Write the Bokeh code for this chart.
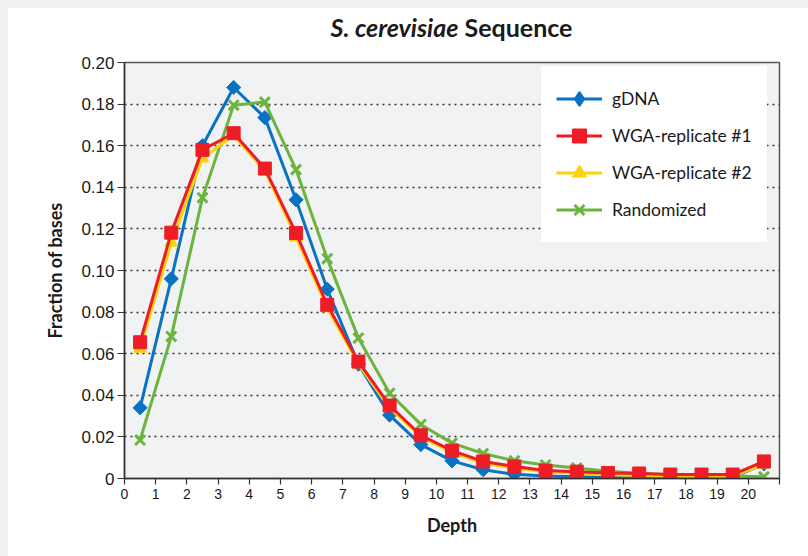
from bokeh.plotting import figure
from bokeh.models import Range1d, FixedTicker, Legend, LegendItem, Div
from bokeh.layouts import column
from bokeh.embed import file_html
from bokeh.resources import INLINE
import math

# ---------------- data ----------------
depth = [0.5, 1.5, 2.5, 3.5, 4.5, 5.5, 6.5, 7.5, 8.5, 9.5, 10.5,
         11.5, 12.5, 13.5, 14.5, 15.5, 16.5, 17.5, 18.5, 19.5, 20.5]

gdna = [0.034, 0.096, 0.160, 0.188, 0.1735, 0.134, 0.091, 0.055, 0.0305, 0.0163, 0.0085,
        0.0042, 0.0020, 0.0012, 0.0008, 0.0005, 0.0004, 0.0004, 0.0004, 0.0005, 0.0070]

wga1 = [0.0655, 0.1182, 0.158, 0.166, 0.149, 0.118, 0.0835, 0.0562, 0.0351, 0.0208, 0.0134,
        0.0082, 0.0058, 0.0038, 0.0033, 0.0026, 0.0024, 0.0019, 0.0019, 0.0019, 0.0082]

wga2 = [0.0625, 0.1135, 0.1540, 0.1650, 0.1480, 0.1160, 0.0820, 0.0550, 0.0340, 0.0200, 0.0125,
        0.0075, 0.0050, 0.0032, 0.0025, 0.0018, 0.0015, 0.0012, 0.0012, 0.0012, 0.0068]

randomized = [0.0185, 0.0683, 0.135, 0.1795, 0.181, 0.1485, 0.1057, 0.0675, 0.041, 0.026, 0.017,
              0.012, 0.0085, 0.0065, 0.005, 0.0035, 0.0025, 0.0018, 0.0015, 0.0012, 0.0008]

series_names = ["gDNA", "WGA-replicate #1", "WGA-replicate #2", "Randomized"]

x_ticks = [0, 1, 2, 3, 4, 5, 6, 7, 8, 9, 10, 11, 12, 13, 14, 15, 16, 17, 18, 19, 20, 21]
x_tick_labels = ["0", "1", "2", "3", "4", "5", "6", "7", "8", "9", "10", "11", "12", "13",
                 "14", "15", "16", "17", "18", "19", "20", ""]
y_ticks = [0, 0.02, 0.04, 0.06, 0.08, 0.10, 0.12, 0.14, 0.16, 0.18, 0.20]
y_tick_labels = ["0", "0.02", "0.04", "0.06", "0.08", "0.10", "0.12", "0.14", "0.16", "0.18", "0.20"]

title_part1 = "S. cerevisiae"
title_part2 = "Sequence"
x_label = "Depth"
y_label = "Fraction of bases"

# ---------------- styles ----------------
BLUE = "#0a72c2"
RED = "#ee1d25"
YELLOW = "#fdd20a"
GREEN = "#6db33f"
PLOT_BG = "#f1f2f4"
PAGE_BG = "#eff0f2"
TXT = "#1a1a1a"

title_div = Div(
    text=('<div style="font-family:Lato;font-weight:bold;font-size:25px;color:%s;'
          'text-align:center;line-height:38px;padding-left:87px;width:800px;'
          'box-sizing:border-box;"><i>%s</i> %s</div>') % (TXT, title_part1, title_part2),
    width=800, height=40, margin=0, styles={"background-color": "white"})

p = figure(width=800, height=508, output_backend="svg", toolbar_location=None,
           x_range=Range1d(0, 21), y_range=Range1d(0, 0.2), margin=0,
           min_border_left=116, min_border_right=29, min_border_top=14, min_border_bottom=78)

p.background_fill_color = PLOT_BG
p.border_fill_color = "white"
p.outline_line_color = "#555555"
p.outline_line_width = 1.5

p.xgrid.grid_line_color = None
p.ygrid.grid_line_color = "#333333"
p.ygrid.grid_line_dash = "2 4"
p.ygrid.grid_line_width = 1.5
p.ygrid.ticker = FixedTicker(ticks=y_ticks)

p.xaxis.ticker = FixedTicker(ticks=x_ticks)
p.xaxis.major_label_overrides = dict(zip(x_ticks, x_tick_labels))
p.yaxis.ticker = FixedTicker(ticks=y_ticks)
p.yaxis.major_label_overrides = dict(zip(y_ticks, y_tick_labels))

for ax in (p.xaxis[0], p.yaxis[0]):
    ax.axis_line_color = "#333333"
    ax.axis_line_width = 1.5
    ax.major_tick_line_color = "#333333"
    ax.major_tick_line_width = 1.2
    ax.major_tick_in = 0
    ax.minor_tick_line_color = None
    ax.major_label_text_font = "Liberation Sans"
    ax.major_label_text_color = TXT
    ax.axis_label_text_font = "Lato"
    ax.axis_label_text_font_style = "bold"
    ax.axis_label_text_font_size = "18px"
    ax.axis_label_text_color = TXT
    ax.axis_label_standoff = 12

p.xaxis.major_tick_out = 6
p.xaxis.major_label_standoff = 4
p.xaxis.major_label_text_font_size = "14px"
p.yaxis.major_tick_out = 7
p.yaxis.major_label_standoff = 3
p.yaxis.major_label_text_font_size = "17px"
p.xaxis.axis_label = x_label
p.yaxis.axis_label = y_label

# ---------------- series ----------------
def add_series(vals, color, marker, size, angle=0.0):
    lr = p.line(depth, vals, line_color=color, line_width=3, line_join="round")
    kw = dict(marker=marker, size=size, angle=angle, fill_color=color, line_color=color)
    if marker == "x":
        kw["line_width"] = 3
    sr = p.scatter(depth, vals, **kw)
    return lr, sr

r_gdna = add_series(gdna, BLUE, "square", 10, angle=math.pi / 4)
r_rand = add_series(randomized, GREEN, "x", 14)
r_wga2 = add_series(wga2, YELLOW, "triangle", 13)
r_wga1 = add_series(wga1, RED, "square", 13)

# hidden diamond renderer of the gDNA series, used only for its legend glyph
gdna_legend_marker = p.scatter(depth, gdna, marker="diamond", size=10, visible=False,
                               fill_color=BLUE, line_color=BLUE, line_width=2)

legend = Legend(items=[
    LegendItem(label=series_names[0], renderers=[r_gdna[0], gdna_legend_marker]),
    LegendItem(label=series_names[1], renderers=list(r_wga1)),
    LegendItem(label=series_names[2], renderers=list(r_wga2)),
    LegendItem(label=series_names[3], renderers=list(r_rand)),
])
legend.location = (417, 236)
legend.background_fill_color = "white"
legend.background_fill_alpha = 1.0
legend.border_line_color = "white"
legend.border_line_width = 1
legend.padding = 14
legend.margin = 0
legend.spacing = 2
legend.glyph_width = 46
legend.glyph_height = 35
legend.label_height = 35
legend.label_width = 140
legend.label_standoff = 10
legend.label_text_font = "Lato"
legend.label_text_font_size = "17.5px"
legend.label_text_color = TXT
p.add_layout(legend)

layout = column(title_div, p, spacing=0, margin=(8, 0, 0, 8),
                styles={"background-color": "white"})

html = file_html(layout, INLINE)
style = "<style>html,body{background:%s;}</style></head>" % PAGE_BG
html = html.replace("</head>", style, 1)
open("out.html", "w").write(html)
